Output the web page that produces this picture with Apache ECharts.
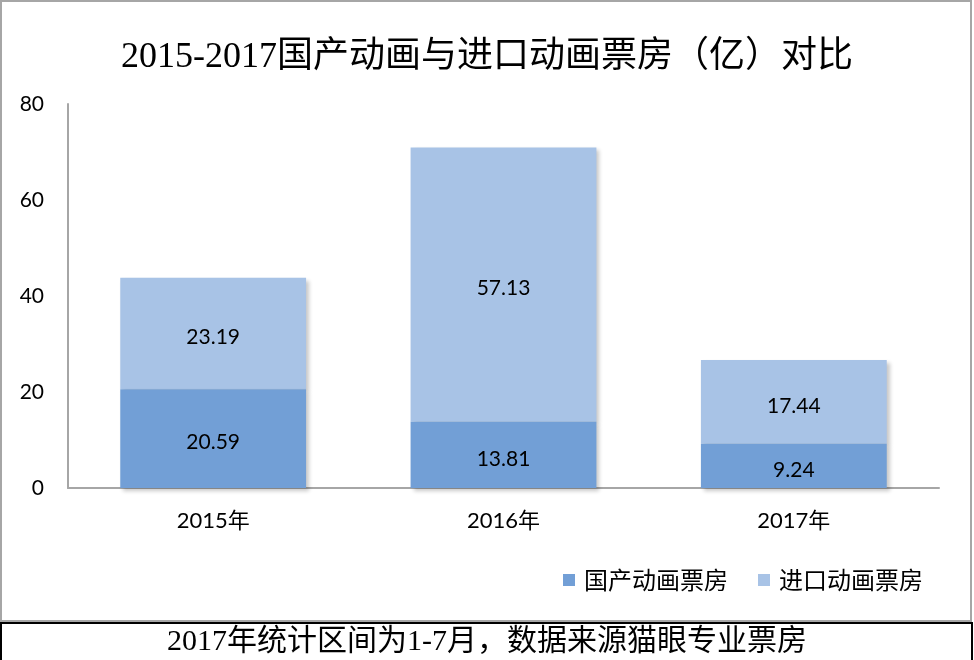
<!DOCTYPE html>
<html><head><meta charset="utf-8">
<script src="https://cdn.jsdelivr.net/npm/echarts@6/dist/echarts.min.js"></script>
<style>html,body{margin:0;padding:0;background:#fff}#c{width:974px;height:660px}</style>
</head><body><div id="c"></div>
<script>
const categories = ['2015年', '2016年', '2017年'];
const domestic = [20.59, 13.81, 9.24];
const imported = [23.19, 57.13, 17.44];
const seriesNames = ['国产动画票房', '进口动画票房'];
const yTicks = { min: 0, max: 80, interval: 20 };
const titleText = '2015-2017国产动画与进口动画票房（亿）对比';
const footerText = '2017年统计区间为1-7月，数据来源猫眼专业票房';

const sans = 'Lato, "Noto Sans CJK SC", sans-serif';
const serif = '"Liberation Serif", "Noto Sans CJK SC", serif';
const shadow = { shadowColor: 'rgba(0,0,0,0.22)', shadowBlur: 4, shadowOffsetX: 3, shadowOffsetY: 3 };
const valueLabel = { show: true, position: 'inside', offset: [0, 4], fontFamily: sans, fontSize: 21, color: '#000' };

const chart = echarts.init(document.getElementById('c'), null, { renderer: 'canvas' });
chart.setOption({
  animation: false,
  backgroundColor: '#fff',
  title: {
    text: titleText, left: 'center', top: 35,
    textStyle: { fontFamily: serif, fontSize: 36, fontWeight: 'normal', color: '#000' }
  },
  legend: {
    data: seriesNames, right: 46, top: 563, icon: 'rect', itemWidth: 12, itemHeight: 12, itemGap: 30,
    textStyle: { fontFamily: '"Noto Sans CJK SC", sans-serif', fontSize: 24, color: '#000', padding: [0, 0, 0, 4] }
  },
  grid: { left: 68, right: 35, top: 104, bottom: 172, containLabel: false },
  xAxis: {
    type: 'category', data: categories,
    axisLine: { lineStyle: { color: '#a6a6a6', width: 2 } },
    axisTick: { show: false },
    axisLabel: { margin: 22, fontFamily: sans, fontSize: 22, color: '#000' }
  },
  yAxis: {
    type: 'value', min: yTicks.min, max: yTicks.max, interval: yTicks.interval,
    axisLine: { show: true, lineStyle: { color: '#a6a6a6', width: 2 } },
    axisTick: { show: false },
    splitLine: { show: false },
    axisLabel: { margin: 24, fontFamily: sans, fontSize: 21, color: '#000' }
  },
  series: [
    {
      name: seriesNames[0], type: 'bar', stack: 'total', barWidth: '64%', data: domestic, z: 3,
      itemStyle: Object.assign({ color: '#729fd6' }, shadow),
      label: valueLabel
    },
    {
      name: seriesNames[1], type: 'bar', stack: 'total', barWidth: '64%', data: imported, z: 2,
      itemStyle: Object.assign({ color: '#a8c3e6' }, shadow),
      label: valueLabel
    }
  ],
  graphic: [
    { type: 'rect', shape: { x: 1, y: 1, width: 970, height: 620 }, style: { fill: 'none', stroke: '#a6a6a6', lineWidth: 2 }, z: 100 },
    { type: 'rect', shape: { x: 1, y: 623, width: 971, height: 40 }, style: { fill: '#fff', stroke: '#000', lineWidth: 2 }, z: 100 },
    { type: 'text', x: 487, y: 642, style: { text: footerText, fill: '#000', font: '30px "Liberation Serif", "Noto Sans CJK SC", serif', textAlign: 'center', textVerticalAlign: 'middle' }, z: 101 }
  ]
});
</script></body></html>
